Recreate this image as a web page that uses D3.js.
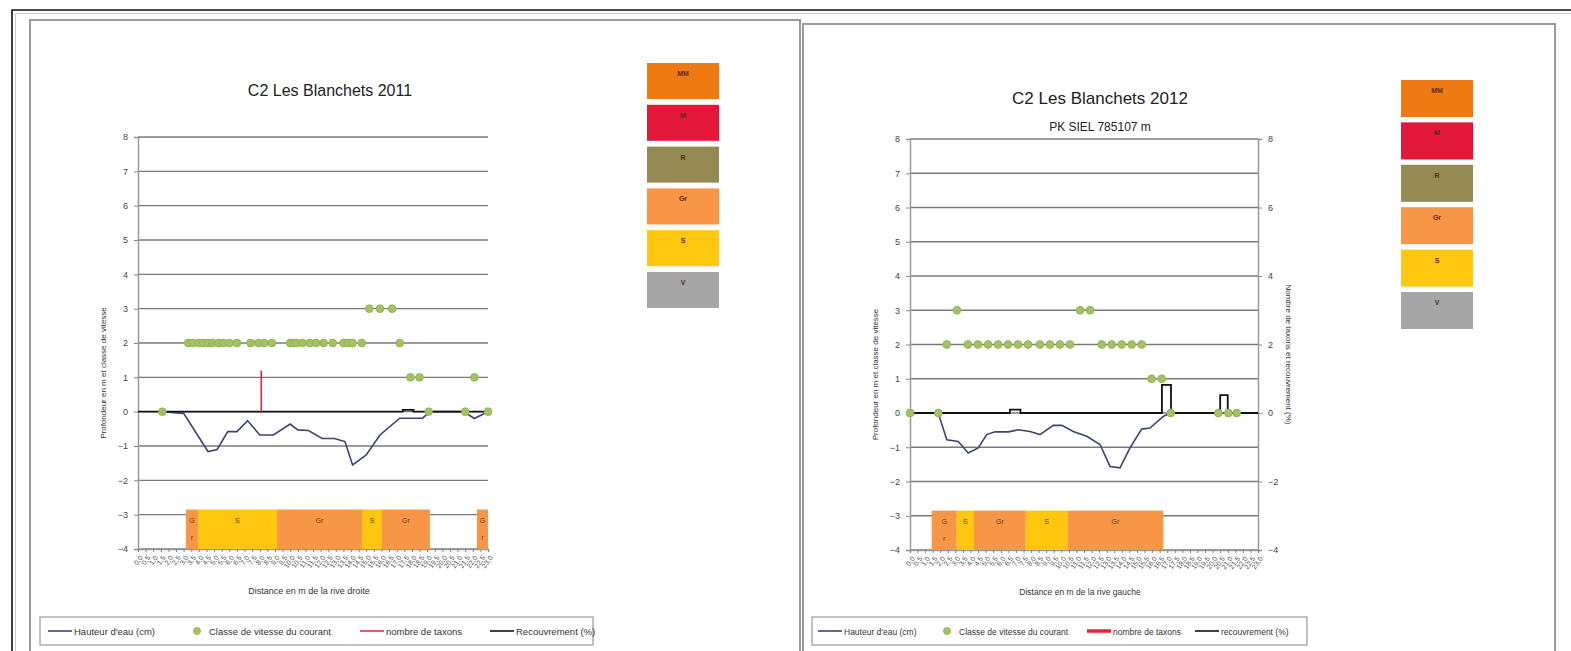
<!DOCTYPE html>
<html>
<head>
<meta charset="utf-8">
<script src="https://cdn.jsdelivr.net/npm/d3@7"></script>
<style>
  body { margin: 0; background: #fff; }
  svg { display: block; font-family: "Liberation Sans", Arial, sans-serif; }
</style>
</head>
<body>
<svg id="chart" width="1571" height="651"></svg>
<script>
// shared axis values and substrate legend
const yTicks = [-4, -3, -2, -1, 0, 1, 2, 3, 4, 5, 6, 7, 8];
const yTicksRight = [-4, -2, 0, 2, 4, 6, 8];
const substrateCodes = ["MM", "M", "R", "Gr", "S", "V"];
const substrateColors = ["#EE7A14", "#E2173A", "#948A54", "#F79646", "#FFC70F", "#A6A6A6"];

// 2011 - distances in m from the right bank
const depthDist2011 = [1.6, 3.0, 4.6, 5.2, 5.9, 6.5, 7.2, 8.0, 8.9, 10.0, 10.5, 11.2, 12.1, 12.9, 13.6, 14.1, 15.0, 15.9, 17.2, 18.7, 19.2, 21.4, 22.1, 23.0];
const depthVal2011  = [0, -0.05, -1.16, -1.1, -0.58, -0.58, -0.26, -0.68, -0.68, -0.36, -0.53, -0.55, -0.78, -0.78, -0.87, -1.55, -1.26, -0.68, -0.19, -0.19, 0, 0, -0.2, 0];
const speedDist2011 = [1.6, 3.3, 3.6, 4.0, 4.3, 4.6, 4.9, 5.3, 5.6, 6.0, 6.5, 7.4, 7.9, 8.3, 8.8, 10.0, 10.2, 10.4, 10.8, 11.3, 11.7, 12.2, 12.8, 13.5, 13.8, 14.1, 14.7, 15.2, 15.9, 16.7, 17.2, 17.9, 18.5, 19.1, 21.5, 22.1, 23.0];
const speedVal2011  = [0, 2, 2, 2, 2, 2, 2, 2, 2, 2, 2, 2, 2, 2, 2, 2, 2, 2, 2, 2, 2, 2, 2, 2, 2, 2, 2, 3, 3, 3, 2, 1, 1, 0, 0, 1, 0];
const taxaDist2011  = [8.1];
const taxaVal2011   = [1.2];
const coverDist2011 = [0, 17.4, 18.1, 23];
const coverVal2011  = [0, 0.05, 0, 0];
const subStart2011  = [3.15, 3.94, 9.13, 14.72, 16.03, 22.27];
const subEnd2011    = [3.94, 9.13, 14.72, 16.03, 19.18, 23.0];
const subCode2011   = ["Gr", "S", "Gr", "S", "Gr", "Gr"];

// 2012 - distances in m from the left bank
const depthDist2012 = [0, 1.87, 2.43, 3.19, 3.85, 4.51, 5.07, 5.62, 6.5, 7.16, 7.93, 8.59, 9.47, 10.03, 10.79, 11.68, 12.56, 13.22, 13.88, 14.54, 15.31, 15.86, 16.74, 17.18, 21.59];
const depthVal2012  = [0, 0, -0.78, -0.83, -1.17, -1.02, -0.63, -0.55, -0.55, -0.49, -0.54, -0.63, -0.36, -0.36, -0.54, -0.68, -0.92, -1.56, -1.6, -1.02, -0.47, -0.44, -0.1, 0, 0];
const speedDist2012 = [0, 1.87, 2.43, 3.1, 3.83, 4.49, 5.16, 5.82, 6.48, 7.14, 7.8, 8.59, 9.25, 9.91, 10.57, 11.24, 11.9, 12.67, 13.33, 13.99, 14.65, 15.31, 15.97, 16.64, 17.23, 20.38, 21.04, 21.59];
const speedVal2012  = [0, 0, 2, 3, 2, 2, 2, 2, 2, 2, 2, 2, 2, 2, 2, 3, 3, 2, 2, 2, 2, 2, 1, 1, 0, 0, 0, 0];
const taxaDist2012  = [];
const taxaVal2012   = [];
const coverDist2012 = [0, 6.6, 7.3, 16.65, 17.25, 20.5, 21.0, 23];
const coverVal2012  = [0, 0.1, 0, 0.82, 0, 0.52, 0, 0];
const subStart2012  = [1.43, 3.09, 4.23, 7.65, 10.42];
const subEnd2012    = [3.09, 4.23, 7.65, 10.42, 16.74];
const subCode2012   = ["Gr", "S", "Gr", "S", "Gr"];

const svg = d3.select("#chart");

// outer frame
svg.append("path").attr("d", "M12,651 V10 H1571").attr("fill", "none").attr("stroke", "#111").attr("stroke-width", 1.6);
svg.append("path").attr("d", "M15.5,651 V13.5 H1571").attr("fill", "none").attr("stroke", "#ccc").attr("stroke-width", 1);

const zip = (a, b) => a.map((d, i) => [d, b[i]]);

function drawPanel(cfg) {
    const g = svg.append("g");

    // panel border
    g.append("rect")
        .attr("x", cfg.panel[0]).attr("y", cfg.panel[1])
        .attr("width", cfg.panel[2]).attr("height", cfg.panel[3])
        .attr("fill", "#fff").attr("stroke", "#9a9a9a").attr("stroke-width", 2);

    const x = d3.scaleLinear().domain([0, 23]).range([cfg.x0, cfg.x1]);
    const y = d3.scaleLinear().domain([-4, 8]).range([cfg.yBot, cfg.yTop]);

    // gridlines
    g.append("g").selectAll("line").data(yTicks).enter().append("line")
        .attr("x1", cfg.x0).attr("x2", cfg.x1)
        .attr("y1", d => y(d)).attr("y2", d => y(d))
        .attr("stroke", "#7a7a7a").attr("stroke-width", 1.3);

    // left axis
    const ax = g.append("g").attr("transform", `translate(${cfg.x0},0)`)
        .call(d3.axisLeft(y).tickValues(yTicks).tickSize(4).tickPadding(6));
    ax.select(".domain").attr("stroke", "#9a9a9a").attr("stroke-width", 1.5);
    ax.selectAll(".tick line").attr("stroke", "#888");
    ax.selectAll("text").attr("font-size", 9).attr("fill", "#444");

    if (cfg.rightAxis) {
        const ar = g.append("g").attr("transform", `translate(${cfg.x1},0)`)
            .call(d3.axisRight(y).tickValues(yTicksRight).tickSize(4).tickPadding(6));
        ar.select(".domain").attr("stroke", "#9a9a9a").attr("stroke-width", 1.5);
        ar.selectAll(".tick line").attr("stroke", "#888");
        ar.selectAll("text").attr("font-size", 9).attr("fill", "#444");
        g.append("text")
            .attr("transform", `translate(${cfg.x1 + 28},${(cfg.yTop + cfg.yBot) / 2 + 10}) rotate(90)`)
            .attr("text-anchor", "middle").attr("font-size", 8).attr("fill", "#333")
            .text("Nombre de taxons et recouvrement (%)");
    }

    // bottom ticks + rotated labels
    const xt = g.append("g").attr("transform", `translate(0,${cfg.yBot})`)
        .call(d3.axisBottom(x).tickValues(d3.range(0, 23.01, 0.5)).tickSize(3)
            .tickFormat(d => d3.format(".1f")(d).replace(".", ",")));
    xt.select(".domain").attr("stroke", "#9a9a9a").attr("stroke-width", 1.5);
    xt.selectAll(".tick line").attr("stroke", "#888");
    xt.selectAll("text")
        .attr("font-size", 7).attr("fill", "#555")
        .attr("text-anchor", "end").attr("dy", "0.3em")
        .attr("transform", "translate(-2,4) rotate(-55)");

    // substrate bars
    const subH = y(-4) - y(-2.85);
    const subs = g.append("g").selectAll("g").data(cfg.subStart.map((s, i) => ({s, e: cfg.subEnd[i], c: cfg.subCode[i]})))
        .enter().append("g");
    subs.append("rect")
        .attr("x", d => x(d.s)).attr("y", y(-2.85))
        .attr("width", d => x(d.e) - x(d.s)).attr("height", subH)
        .attr("fill", d => substrateColors[substrateCodes.indexOf(d.c)]);
    subs.each(function(d) {
        const w = x(d.e) - x(d.s), cx = (x(d.s) + x(d.e)) / 2;
        const t = d3.select(this).append("text")
            .attr("text-anchor", "middle").attr("font-size", 7).attr("fill", "#6b3a12");
        if (w < 28 && d.c.length > 1) {
            t.append("tspan").attr("x", cx).attr("y", y(-3.15) + 3).text(d.c[0]);
            t.append("tspan").attr("x", cx).attr("y", y(-3.65) + 3).text(d.c[1]);
        } else {
            t.attr("x", cx).attr("y", y(-3.15) + 3).text(d.c);
        }
    });

    // water depth line
    g.append("path")
        .datum(zip(cfg.depthDist, cfg.depthVal))
        .attr("fill", "none").attr("stroke", "#3A4670").attr("stroke-width", 1.6)
        .attr("d", d3.line().x(d => x(d[0])).y(d => y(d[1])));

    // cover (step line)
    g.append("path")
        .datum(zip(cfg.coverDist, cfg.coverVal))
        .attr("fill", "none").attr("stroke", "#111").attr("stroke-width", 1.8)
        .attr("d", d3.line().x(d => x(d[0])).y(d => y(d[1])).curve(d3.curveStepAfter));

    // taxa
    g.append("g").selectAll("rect").data(zip(cfg.taxaDist, cfg.taxaVal)).enter().append("rect")
        .attr("x", d => x(d[0]) - 0.8).attr("width", 1.6)
        .attr("y", d => y(d[1])).attr("height", d => y(0) - y(d[1]))
        .attr("fill", "#E8233C");

    // speed class markers
    g.append("g").selectAll("circle").data(zip(cfg.speedDist, cfg.speedVal)).enter().append("circle")
        .attr("cx", d => x(d[0])).attr("cy", d => y(d[1])).attr("r", 3.9)
        .attr("fill", "#A4C263").attr("stroke", "#8FAE4D").attr("stroke-width", 0.8);

    // titles
    g.append("text").attr("x", cfg.titleX).attr("y", cfg.titleY)
        .attr("text-anchor", "middle").attr("font-size", cfg.titleSize).attr("fill", "#222")
        .text(cfg.title);
    if (cfg.subtitle) {
        g.append("text").attr("x", cfg.titleX).attr("y", cfg.titleY + 27)
            .attr("text-anchor", "middle").attr("font-size", 12).attr("fill", "#222")
            .text(cfg.subtitle);
    }
    g.append("text")
        .attr("transform", `translate(${cfg.x0 - 32},${(cfg.yTop + cfg.yBot) / 2 + 30}) rotate(-90)`)
        .attr("text-anchor", "middle").attr("font-size", 8).attr("fill", "#333")
        .text("Profondeur en m et classe de vitesse");
    g.append("text")
        .attr("x", (cfg.x0 + cfg.x1) / 2 - 4).attr("y", cfg.yBot + 45)
        .attr("text-anchor", "middle").attr("font-size", cfg.axisTitleSize).attr("fill", "#333")
        .text(cfg.xTitle);

    // substrate colour boxes
    const boxes = g.append("g").selectAll("g").data(substrateCodes).enter().append("g")
        .attr("transform", (d, i) => `translate(${cfg.boxX},${cfg.boxTop + i * cfg.boxStep})`);
    boxes.append("rect").attr("width", 72).attr("height", cfg.boxH)
        .attr("fill", (d, i) => substrateColors[i]);
    boxes.append("text").attr("x", 36).attr("y", 13)
        .attr("text-anchor", "middle").attr("font-size", 7).attr("font-weight", "bold")
        .attr("fill", "#5a2a10").text(d => d);

    // bottom legend
    const lg = g.append("g");
    lg.append("rect").attr("x", cfg.legX).attr("y", 617).attr("width", cfg.legW).attr("height", 28)
        .attr("fill", "#fff").attr("stroke", "#9a9a9a").attr("stroke-width", 1.2);
    const ly = 631;
    const it = cfg.legItems;
    lg.append("line").attr("x1", it[0]).attr("x2", it[0] + 24).attr("y1", ly).attr("y2", ly)
        .attr("stroke", "#3A4670").attr("stroke-width", 1.6);
    lg.append("circle").attr("cx", it[1]).attr("cy", ly).attr("r", 3.5)
        .attr("fill", "#A4C263").attr("stroke", "#8FAE4D").attr("stroke-width", 0.8);
    lg.append("line").attr("x1", it[2]).attr("x2", it[2] + 24).attr("y1", ly).attr("y2", ly)
        .attr("stroke", "#E8233C").attr("stroke-width", cfg.taxaLegW);
    lg.append("line").attr("x1", it[3]).attr("x2", it[3] + 24).attr("y1", ly).attr("y2", ly)
        .attr("stroke", "#111").attr("stroke-width", 1.6);
    const lt = [it[0] + 26, it[1] + 12, it[2] + 26, it[3] + 26];
    lg.selectAll(".lt").data(cfg.legLabels).enter().append("text")
        .attr("x", (d, i) => lt[i]).attr("y", ly + 3.5)
        .attr("font-size", cfg.legSize).attr("fill", "#333").text(d => d);
}

drawPanel({
    panel: [30, 20, 770, 640],
    x0: 138, x1: 488, yTop: 137, yBot: 549,
    rightAxis: false,
    title: "C2 Les Blanchets 2011", titleX: 330, titleY: 96, titleSize: 16,
    xTitle: "Distance en m de la rive droite", axisTitleSize: 9,
    depthDist: depthDist2011, depthVal: depthVal2011,
    speedDist: speedDist2011, speedVal: speedVal2011,
    taxaDist: taxaDist2011, taxaVal: taxaVal2011,
    coverDist: coverDist2011, coverVal: coverVal2011,
    subStart: subStart2011, subEnd: subEnd2011, subCode: subCode2011,
    boxX: 647, boxTop: 63, boxStep: 41.8, boxH: 36,
    legX: 40, legW: 553, legItems: [48, 197, 360, 490], legSize: 9.5, taxaLegW: 1.5,
    legLabels: ["Hauteur d'eau (cm)", "Classe de vitesse du courant", "nombre de taxons", "Recouvrement (%)"]
});

drawPanel({
    panel: [803, 24, 752, 640],
    x0: 910, x1: 1258, yTop: 139, yBot: 550,
    rightAxis: true,
    title: "C2 Les Blanchets 2012", titleX: 1100, titleY: 104, titleSize: 17,
    subtitle: "PK SIEL  785107 m",
    xTitle: "Distance en m de la rive gauche", axisTitleSize: 8.5,
    depthDist: depthDist2012, depthVal: depthVal2012,
    speedDist: speedDist2012, speedVal: speedVal2012,
    taxaDist: taxaDist2012, taxaVal: taxaVal2012,
    coverDist: coverDist2012, coverVal: coverVal2012,
    subStart: subStart2012, subEnd: subEnd2012, subCode: subCode2012,
    boxX: 1401, boxTop: 80, boxStep: 42.4, boxH: 37,
    legX: 812, legW: 495, legItems: [818, 947, 1087, 1195], legSize: 8.5, taxaLegW: 3.5,
    legLabels: ["Hauteur d'eau (cm)", "Classe de vitesse du courant", "nombre de taxons", "recouvrement (%)"]
});
</script>
</body>
</html>
